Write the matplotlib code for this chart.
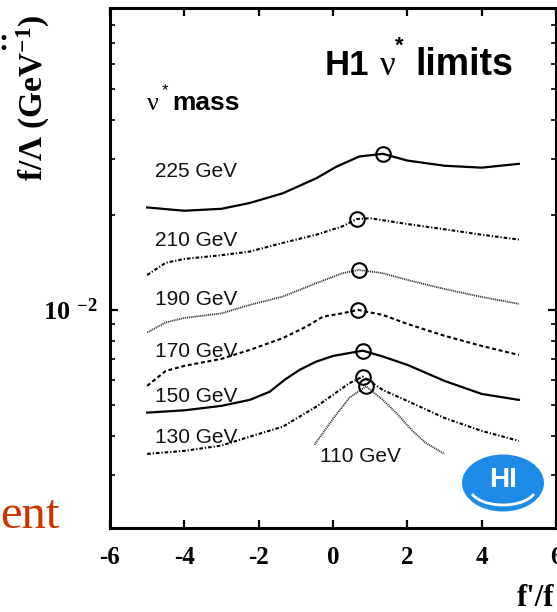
import matplotlib
matplotlib.use('Agg')
import matplotlib.pyplot as plt
from matplotlib.ticker import LogLocator, NullFormatter
from matplotlib.patches import Ellipse, Arc

plt.rcParams['lines.scale_dashes'] = False
plt.rcParams['mathtext.fontset'] = 'custom'
plt.rcParams['mathtext.rm'] = 'Liberation Serif'
plt.rcParams['mathtext.bf'] = 'Liberation Serif:bold'
plt.rcParams['mathtext.it'] = 'Liberation Serif:italic'
plt.rcParams['axes.unicode_minus'] = False

# ---------------- data ----------------
x_225 = [-5, -4, -3, -2.24, -1.35, -0.45, 0.09, 0.71, 1.34, 2, 3, 4, 5]
y_225 = [0.0211, 0.0206, 0.0209, 0.0218, 0.0234, 0.0261, 0.0284, 0.0306, 0.0312,
         0.0297, 0.0286, 0.0282, 0.0290]

x_210 = [-5, -4.5, -4, -3, -2.24, -1.35, -0.45, 0.26, 0.64, 1.0, 1.5, 2, 3, 4, 5]
y_210 = [0.0129, 0.0141, 0.0145, 0.0149, 0.0153, 0.0163, 0.0173, 0.0184, 0.0194,
         0.0195, 0.0191, 0.0187, 0.0180, 0.0173, 0.0167]

x_190 = [-5, -4.5, -4, -3, -2.24, -1.35, -0.45, 0.26, 0.69, 1.34, 2, 3, 4, 5]
y_190 = [0.00848, 0.00913, 0.00943, 0.00975, 0.01037, 0.01102, 0.01215, 0.01307,
         0.01338, 0.01307, 0.01244, 0.01165, 0.01099, 0.01045]

x_170 = [-5, -4.5, -4, -3, -2.24, -1.35, -0.72, -0.27, 0.26, 0.67, 1.34, 2, 3, 4, 5]
y_170 = [0.00575, 0.00641, 0.00665, 0.00700, 0.00747, 0.00814, 0.00885, 0.00952,
         0.00976, 0.0100, 0.00964, 0.00903, 0.00828, 0.00769, 0.00720]

x_150 = [-5, -4, -3, -2.24, -1.7, -1.3, -0.9, -0.45, 0.0, 0.8, 1.34, 2, 3, 4, 5]
y_150 = [0.00473, 0.00481, 0.00497, 0.00519, 0.00551, 0.00601, 0.00646, 0.00686,
         0.00715, 0.00743, 0.00712, 0.00670, 0.00596, 0.00542, 0.00519]

x_130 = [-5, -4, -3, -2.24, -1.35, -0.45, 0.44, 0.8, 1.34, 2, 3, 4, 5]
y_130 = [0.00350, 0.00358, 0.00372, 0.00397, 0.00427, 0.00494, 0.00586, 0.00615,
         0.00558, 0.00515, 0.00455, 0.00414, 0.00385]

x_110 = [-0.5, 0.0, 0.44, 0.89, 1.34, 1.7, 2.14, 2.5, 3.0]
y_110 = [0.00374, 0.00452, 0.00527, 0.00573, 0.00519, 0.00472, 0.00414, 0.00379, 0.00350]

# best-limit points (open circles)
circ_x = [1.34, 0.64, 0.69, 0.67, 0.80, 0.80, 0.89]
circ_y = [0.0312, 0.0194, 0.0134, 0.0100, 0.00743, 0.00615, 0.00573]

mass_labels = ['225 GeV', '210 GeV', '190 GeV', '170 GeV', '150 GeV', '130 GeV', '110 GeV']
label_x = [-4.79, -4.79, -4.79, -4.79, -4.79, -4.79, -0.36]
label_y = [0.02636, 0.01594, 0.01037, 0.00710, 0.005126, 0.003794, 0.003304]

xticks = [-6, -4, -2, 0, 2, 4, 6]
xtick_labels = ['-6', '-4', '-2', '0', '2', '4', '6']
yticks = [0.01]
ytick_labels = [r'$\mathbf{10}^{\;\;\mathbf{-2}}$']

# ---------------- figure ----------------
fig = plt.figure(figsize=(5.57, 6.12), dpi=100)
ax = fig.add_axes([110 / 557, 84 / 612, 446 / 557, 520 / 612])

solid = dict(color='black', lw=1.6, linestyle='-')
dashdot = dict(color='black', lw=1.5, linestyle=(0, (2.6, 1.4, 0.9, 1.4)))
dotted = dict(color='#333333', lw=1.3, linestyle=(0, (0.8, 0.6)))
dashed = dict(color='black', lw=1.5, linestyle=(0, (2.8, 2.0)))

series = [(x_225, y_225, solid), (x_210, y_210, dashdot), (x_190, y_190, dotted),
          (x_170, y_170, dashed), (x_150, y_150, solid), (x_130, y_130, dashdot),
          (x_110, y_110, dotted)]
for xs, ys, st in series:
    ax.plot(xs, ys, **st)

ax.plot(circ_x, circ_y, linestyle='none', marker='o', markersize=10.5,
        markerfacecolor='none', markeredgecolor='black', markeredgewidth=1.5, zorder=5)

for t, lx, ly in zip(mass_labels, label_x, label_y):
    ax.text(lx, ly, t, fontfamily='Liberation Sans', fontsize=15, color='#111111',
            ha='left', va='baseline')

ax.set_xlim(-6, 6)
ax.set_yscale('log')
ax.set_ylim(0.00204, 0.0903)

ax.set_xticks(xticks, xtick_labels, fontfamily='Liberation Serif', fontweight='bold',
              fontsize=18)
ax.set_yticks(yticks, ytick_labels, fontsize=19)
ax.yaxis.set_minor_locator(LogLocator(base=10, subs=[2, 3, 4, 5, 6, 7, 8, 9], numticks=20))
ax.yaxis.set_minor_formatter(NullFormatter())
ax.xaxis.set_minor_locator(plt.NullLocator())

ax.tick_params(which='both', direction='in', top=True, right=True)
ax.tick_params(axis='x', which='major', length=5.5, width=1.6, pad=13)
ax.tick_params(axis='y', which='major', length=6, width=1.6, pad=9)
ax.tick_params(axis='y', which='minor', length=3.5, width=1.2)
for sp in ax.spines.values():
    sp.set_linewidth(2.2)

# in-plot titles
ax.text(0.482, 0.871, 'H1', transform=ax.transAxes, fontfamily='Liberation Sans',
        fontweight='bold', fontsize=25, va='baseline', ha='left')
ax.text(0.605, 0.871, 'ν', transform=ax.transAxes, fontfamily='Liberation Serif',
        fontsize=25, va='baseline', ha='left')
ax.text(0.638, 0.946, '*', transform=ax.transAxes, fontfamily='Liberation Sans',
        fontweight='bold', fontsize=16, va='top', ha='left')
ax.text(0.684, 0.871, 'limits', transform=ax.transAxes, fontfamily='Liberation Sans',
        fontweight='bold', fontsize=27, va='baseline', ha='left')

ax.text(0.083, 0.804, 'ν', transform=ax.transAxes, fontfamily='Liberation Serif',
        fontsize=19, va='baseline', ha='left')
ax.text(0.117, 0.855, '*', transform=ax.transAxes, fontfamily='Liberation Sans',
        fontsize=12, va='top', ha='left')
ax.text(0.139, 0.804, 'mass', transform=ax.transAxes, fontfamily='Liberation Sans',
        fontweight='bold', fontsize=19, va='baseline', ha='left')

# axis labels (cropped slide style)
fig.text(33 / 557, 1 - 181 / 612, r'f/Λ (GeV$^{\mathbf{-1}}$)', rotation=90,
         ha='center', va='bottom', fontfamily='Liberation Serif', fontweight='bold',
         fontsize=24)
fig.text(517 / 557, 1 - 606 / 612, "f'/f", ha='left', va='baseline',
         fontfamily='Liberation Serif', fontweight='bold', fontsize=22)
fig.text(4 / 557, 1 - 43 / 612, ':', ha='center', va='center',
         fontfamily='Liberation Serif', fontweight='bold', fontsize=22)
fig.text(60 / 557, 84 / 612, 'ent', ha='right', va='baseline',
         fontfamily='Liberation Serif', fontsize=35, color='#CC3300')

# H1 logo
logo = Ellipse((503 / 557, 1 - 483 / 612), 82 / 557, 57 / 612,
               transform=fig.transFigure, facecolor='#1E8BE9', edgecolor='none', zorder=6)
fig.add_artist(logo)
arc = Arc((503 / 557, 1 - 488 / 612), 66 / 557, 34 / 612, theta1=190, theta2=350,
          transform=fig.transFigure, color='white', lw=2.0, zorder=7)
fig.add_artist(arc)
fig.text(503 / 557, 1 - 480 / 612, 'HI', ha='center', va='center', color='white',
         fontfamily='Liberation Sans', fontweight='bold', fontsize=20, zorder=8)

fig.savefig('out.png', dpi=100)
